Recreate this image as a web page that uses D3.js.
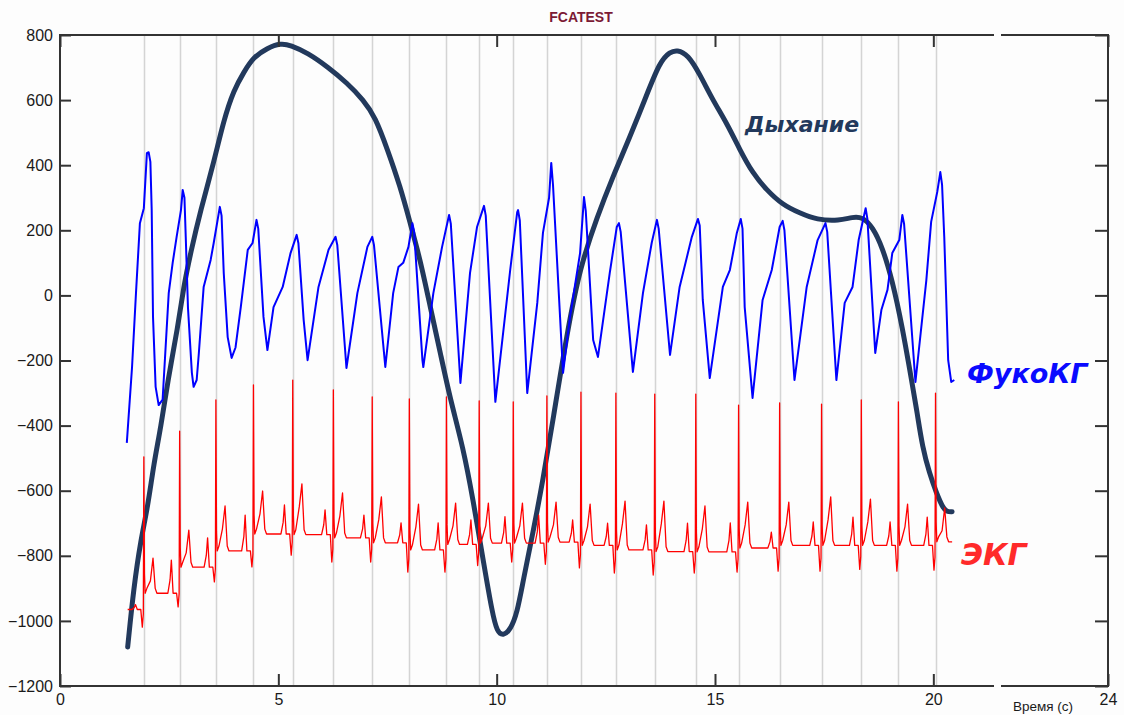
<!DOCTYPE html>
<html>
<head>
<meta charset="utf-8">
<script src="https://cdn.jsdelivr.net/npm/d3@7"></script>
<style>
  html, body { margin: 0; padding: 0; background: #fdfdfd; }
  svg { display: block; }
</style>
</head>
<body>
<svg id="chart" width="1124" height="715"></svg>
<script>
// ---- axis ticks ----
const xTicks = [0, 5, 10, 15, 20, 24];
const yTicks = [-1200, -1000, -800, -600, -400, -200, 0, 200, 400, 600, 800];

// ---- ECG (ЭКГ): one entry per heartbeat, R-peak time in seconds ----
const ekgBeatTimes = [1.92, 2.74, 3.57, 4.43, 5.33, 6.26, 7.15, 8.00, 8.85, 9.60, 10.38,
                      11.15, 11.93, 12.73, 13.62, 14.56, 15.54, 16.48, 17.44, 18.35, 19.20, 20.05];
const ekgR    = [-496, -417, -321, -275, -260, -290, -312, -318, -312, -324, -327,
                 -309, -297, -300, -303, -303, -337, -330, -334, -321, -327, -300];
const ekgP    = [-950, -813, -745, -675, -644, -659, -675, -699, -699, -690, -680,
                 -675, -690, -700, -705, -700, -699, -727, -696, -681, -696, -681];
const ekgQ    = [-1019, -957, -880, -834, -798, -819, -819, -850, -850, -830, -819,
                 -826, -837, -853, -859, -853, -850, -847, -847, -842, -847, -844];
const ekgT    = [-807, -721, -647, -601, -579, -607, -619, -641, -638, -638, -638,
                 -635, -641, -632, -632, -647, -635, -635, -619, -626, -641, -653];
const ekgBase = [-915, -835, -785, -733, -735, -745, -760, -782, -765, -761, -761,
                 -758, -768, -782, -787, -788, -776, -768, -768, -768, -768, -757];
const ekgStart = [1.55, -965];
const ekgEnd   = [20.43, -757];

// ---- Foucault cardiogram (ФукоКГ): time (s) and value ----
const fcgTime = [1.53,1.65,1.74,1.83,1.92,1.99,2.03,2.07,2.10,2.13,2.19,2.26,2.35,2.49,2.58,2.67,2.77,2.81,2.85,2.88,
  2.93,3.02,3.06,3.13,3.18,3.29,3.45,3.52,3.61,3.66,3.70,3.75,3.84,3.93,4.02,4.14,4.30,4.41,4.50,4.54,
  4.66,4.75,4.89,5.10,5.28,5.42,5.46,5.58,5.67,5.92,6.15,6.31,6.35,6.56,6.81,7.04,7.15,7.19,7.45,7.63,
  7.75,7.86,7.98,8.07,8.11,8.30,8.32,8.55,8.75,8.91,8.95,9.17,9.39,9.55,9.71,9.75,9.97,10.31,10.47,10.49,
  10.53,10.70,10.93,11.06,11.20,11.25,11.29,11.52,11.68,11.91,12.00,12.04,12.21,12.32,12.59,12.75,12.80,12.84,13.12,13.35,
  13.55,13.67,13.71,13.97,14.19,14.47,14.61,14.65,14.72,14.88,15.18,15.34,15.50,15.59,15.63,15.68,15.86,16.09,16.30,16.48,
  16.55,16.59,16.82,17.10,17.35,17.53,17.57,17.78,17.97,18.15,18.29,18.45,18.49,18.67,18.81,18.95,19.06,19.22,19.29,19.33,
  19.59,19.84,19.95,20.09,20.16,20.20,20.25,20.34,20.41,20.48];
const fcgValue = [-453,-220,7,222,268,437,440,410,262,-66,-281,-337,-320,7,100,179,262,324,300,179,
  -36,-238,-281,-260,-177,26,109,161,232,272,245,69,-128,-192,-160,-36,140,161,232,205,
  -66,-168,-36,26,130,186,160,-75,-199,26,140,180,155,-223,7,149,180,155,-220,7,
  87,100,149,222,195,-199,-220,7,149,247,220,-269,69,210,275,245,-327,78,256,262,
  230,-300,-23,192,300,407,340,-238,-66,130,302,260,-137,-189,69,210,222,195,-235,7,
  161,232,205,-183,26,180,235,215,-14,-254,26,78,192,235,205,-36,-315,-14,78,210,
  229,200,-260,26,170,222,195,-260,-23,26,170,268,235,-177,-45,17,130,170,247,220,
  -266,47,226,318,379,340,180,-199,-266,-260];

// ---- respiration (Дыхание): time (s) and value ----
const respTime = [1.55,1.69,1.85,2.01,2.15,2.31,2.47,2.70,2.83,2.99,3.22,3.52,3.75,3.98,4.21,4.43,4.75,5.05,5.28,5.67,
  6.13,6.58,6.95,7.22,7.50,7.79,8.02,8.25,8.48,8.71,8.94,9.23,9.46,9.69,9.90,10.01,10.15,10.31,10.47,10.61,
  10.83,11.06,11.29,11.61,11.91,12.30,12.66,13.05,13.39,13.74,13.97,14.13,14.38,14.65,14.95,15.27,15.57,15.86,16.18,16.55,
  16.94,17.33,17.85,18.15,18.38,18.61,18.83,19.06,19.29,19.52,19.63,19.75,19.91,20.07,20.21,20.30,20.43];
const respValue = [-1080,-896,-751,-650,-515,-405,-260,-97,26,130,262,407,539,631,686,732,760,775,769,745,
  702,652,600,548,448,335,222,109,-36,-177,-321,-466,-628,-813,-976,-1034,-1046,-1028,-976,-874,
  -730,-567,-383,-116,87,241,364,487,600,720,748,754,740,680,600,529,447,376,324,278,
  253,232,229,241,241,210,149,47,-97,-275,-361,-466,-546,-607,-650,-665,-665];

// ---- layout ----
const W = 1124, H = 715;
const plotLeft = 60, plotRight = 1108, plotTop = 35, plotBottom = 686;
const gapFrom = 994, gapTo = 1001;   // break in the top/bottom frame lines

const svg = d3.select("#chart");
svg.append("rect").attr("width", W).attr("height", H).attr("fill", "#fdfdfd");

const x = d3.scaleLinear().domain([0, 24]).range([plotLeft, plotRight]);
const y = d3.scaleLinear().domain([-1200, 800]).range([plotBottom, plotTop]);

// vertical guides at the R-peaks
svg.append("g").selectAll("line").data(ekgBeatTimes).join("line")
  .attr("x1", d => Math.round(x(d)) + 0.5).attr("x2", d => Math.round(x(d)) + 0.5)
  .attr("y1", plotTop).attr("y2", plotBottom)
  .attr("stroke", "#d4d4d4").attr("stroke-width", 1.5);

// build ECG polyline from per-beat landmarks
const beatShape = [
  // [offset from R (s), which landmark]
  [-0.27, "prev"], [-0.22, "pRise"], [-0.19, "P"], [-0.15, "prev"], [-0.07, "prev"],
  [-0.035, "Q"], [-0.012, "Q2"], [0, "R"], [0.014, "S"], [0.03, "base"], [0.07, "st"],
  [0.15, "tRise"], [0.21, "T"], [0.26, "tFall"], [0.30, "base"]
];
const ekgPoints = [ekgStart];
ekgBeatTimes.forEach((tr, i) => {
  const b0 = i === 0 ? ekgStart[1] : ekgBase[i - 1];
  const b1 = ekgBase[i];
  const lv = {
    prev: b0, pRise: b0 + (ekgP[i] - b0) * 0.4, P: ekgP[i], Q: ekgQ[i], Q2: ekgQ[i] + 40,
    R: ekgR[i], S: b1 + 60, base: b1, st: b1 + 15, tRise: ekgT[i] - 70, T: ekgT[i], tFall: b1 + 15
  };
  beatShape.forEach(([dt, k]) => ekgPoints.push([tr + dt, lv[k]]));
});
ekgPoints.push(ekgEnd);

const lineGen = d3.line().x(d => x(d[0])).y(d => y(d[1]));

// respiration: smooth curve through the sampled points
const respPts = respTime.map((t, i) => [t, respValue[i]]);
svg.append("path").datum(respPts)
  .attr("d", d3.line().x(d => x(d[0])).y(d => y(d[1])).curve(d3.curveBasis))
  .attr("fill", "none").attr("stroke", "#22395c").attr("stroke-width", 5)
  .attr("stroke-linecap", "round").attr("stroke-linejoin", "round");

// FCG
const fcgPts = fcgTime.map((t, i) => [t, fcgValue[i]]);
svg.append("path").datum(fcgPts).attr("d", lineGen)
  .attr("fill", "none").attr("stroke", "#0000ff").attr("stroke-width", 2)
  .attr("stroke-linejoin", "round");

// ECG
svg.append("path").datum(ekgPoints).attr("d", lineGen)
  .attr("fill", "none").attr("stroke", "#ff0000").attr("stroke-width", 1.3)
  .attr("stroke-linejoin", "round");

// ---- axes ----
const axisColor = "#333";
const font = "'Liberation Sans', Arial, sans-serif";

const gl = svg.append("g").attr("transform", `translate(${plotLeft},0)`)
  .call(d3.axisLeft(y).tickValues(yTicks).tickSize(-11).tickPadding(7).tickFormat(d3.format("d")));
const gr = svg.append("g").attr("transform", `translate(${plotRight},0)`)
  .call(d3.axisRight(y).tickValues(yTicks).tickSize(-13).tickFormat(""));
const gb = svg.append("g").attr("transform", `translate(0,${plotBottom})`)
  .call(d3.axisBottom(x).tickValues(xTicks).tickSize(-12).tickPadding(8));
const gt = svg.append("g").attr("transform", `translate(0,${plotTop})`)
  .call(d3.axisTop(x).tickValues(xTicks).tickSize(-12).tickFormat(""));

[gl, gr, gb, gt].forEach(g => {
  g.select(".domain").remove();
  g.selectAll(".tick line").attr("stroke", axisColor).attr("stroke-width", 2);
  g.selectAll(".tick text").attr("fill", "#1a1a1a").style("font-family", font).style("font-size", "16px");
});

// frame
const frame = svg.append("g").attr("stroke", axisColor).attr("stroke-width", 2).attr("fill", "none");
frame.append("line").attr("x1", plotLeft).attr("x2", plotLeft).attr("y1", plotTop - 1).attr("y2", plotBottom + 1);
frame.append("line").attr("x1", plotRight).attr("x2", plotRight).attr("y1", plotTop - 1).attr("y2", plotBottom + 1);
[plotTop, plotBottom].forEach(yy => {
  frame.append("line").attr("x1", plotLeft).attr("x2", gapFrom).attr("y1", yy).attr("y2", yy);
  frame.append("line").attr("x1", gapTo).attr("x2", plotRight + 1).attr("y1", yy).attr("y2", yy);
});

// axis caption
svg.append("text").attr("x", 1043).attr("y", 711).attr("text-anchor", "middle")
  .style("font-family", font).style("font-size", "13.5px").attr("fill", "#1a1a1a")
  .text("Время (с)");

// title
svg.append("text").attr("x", 581).attr("y", 22).attr("text-anchor", "middle")
  .style("font-family", font).style("font-size", "14px").style("font-weight", "bold")
  .attr("fill", "#7b1a35").text("FCATEST");

// series labels
const labelFont = "'DejaVu Sans', Verdana, sans-serif";
svg.append("text").attr("x", 745).attr("y", 132)
  .style("font-family", labelFont).style("font-size", "22px").style("font-weight", "bold").style("font-style", "italic")
  .attr("fill", "#22395c").text("Дыхание");
svg.append("text").attr("x", 967).attr("y", 383)
  .style("font-family", labelFont).style("font-size", "27px").style("font-weight", "bold").style("font-style", "italic")
  .attr("fill", "#0a0aff").text("ФукоКГ");
svg.append("text").attr("x", 961).attr("y", 565)
  .style("font-family", labelFont).style("font-size", "30px").style("font-weight", "bold").style("font-style", "italic")
  .attr("fill", "#ff2a2a").text("ЭКГ");
</script>
</body>
</html>
